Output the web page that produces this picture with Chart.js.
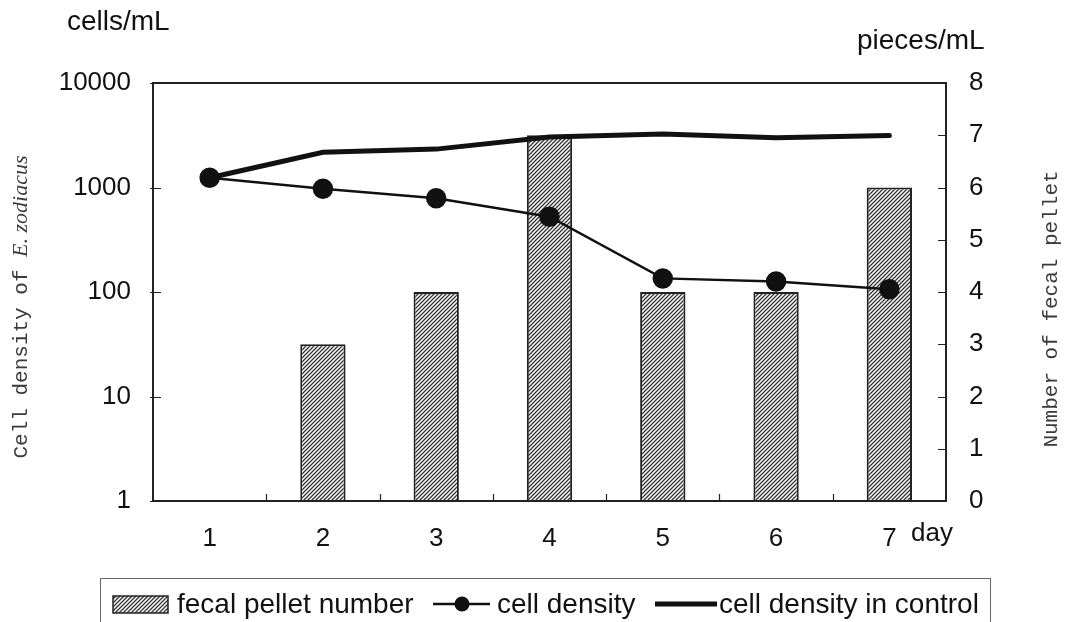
<!DOCTYPE html>
<html>
<head>
<meta charset="utf-8">
<script src="https://cdn.jsdelivr.net/npm/chart.js@4"></script>
<style>
  body { margin: 0; background: #fff; }
  canvas { display: block; }
</style>
</head>
<body>
<canvas id="pelletChart" width="1089" height="622"></canvas>
<script>
// values
const days = ['1', '2', '3', '4', '5', '6', '7'];
const pelletNumber = [0, 3, 4, 7, 4, 4, 6];                 // pieces/mL (right axis)
const cellDensity = [1240, 975, 790, 525, 135, 126, 106];   // cells/mL (left, log)
const controlDensity = [1240, 2170, 2330, 3040, 3250, 3000, 3150];
const logTicks = [1, 10, 100, 1000, 10000];

const labelFont = '"Liberation Sans", Arial, sans-serif';
const titleFont = '"Liberation Mono", "DejaVu Sans Mono", monospace';

// diagonal hatch for the bars
function makeHatch() {
  const c = document.createElement('canvas');
  c.width = 4; c.height = 4;
  const g = c.getContext('2d');
  g.fillStyle = '#fff';
  g.fillRect(0, 0, 4, 4);
  g.strokeStyle = '#333';
  g.lineWidth = 1.3;
  g.beginPath();
  g.moveTo(-1, 5); g.lineTo(5, -1);
  g.moveTo(-1, 1); g.lineTo(1, -1);
  g.moveTo(3, 5); g.lineTo(5, 3);
  g.stroke();
  return g.createPattern(c, 'repeat');
}
const hatch = makeHatch();

// frame, inward ticks, unit labels, axis titles and the boxed legend
const decorations = {
  id: 'decorations',
  afterDraw(chart) {
    const ctx = chart.ctx;
    const a = chart.chartArea;
    const x = chart.scales.x, y = chart.scales.y, y1 = chart.scales.y1;
    ctx.save();

    ctx.strokeStyle = '#222';
    ctx.lineWidth = 2;
    ctx.strokeRect(a.left, a.top, a.right - a.left, a.bottom - a.top);

    ctx.lineWidth = 1.2;
    ctx.beginPath();
    logTicks.forEach(v => {
      const py = Math.round(y.getPixelForValue(v)) + 0.5;
      ctx.moveTo(a.left - 3, py); ctx.lineTo(a.left + 8, py);
    });
    for (let v = 0; v <= 8; v++) {
      const py = Math.round(y1.getPixelForValue(v)) + 0.5;
      ctx.moveTo(a.right - 8, py); ctx.lineTo(a.right, py);
    }
    for (let i = 0; i < days.length - 1; i++) {
      const px = Math.round((x.getPixelForValue(i) + x.getPixelForValue(i + 1)) / 2) + 0.5;
      ctx.moveTo(px, a.bottom); ctx.lineTo(px, a.bottom - 7);
    }
    ctx.stroke();

    ctx.fillStyle = '#111';
    ctx.font = '26px ' + labelFont;
    ctx.textBaseline = 'middle';
    ctx.textAlign = 'left';
    ctx.fillText('day', 911, 534);
    ctx.font = '28px ' + labelFont;
    ctx.fillText('cells/mL', 67, 22);
    ctx.fillText('pieces/mL', 857, 41);

    // rotated axis titles
    ctx.fillStyle = '#3a3a3a';
    ctx.save();
    ctx.translate(21, 307);
    ctx.rotate(-Math.PI / 2);
    const t1 = 'Cell density of ';
    const t2 = 'E. zodiacus';
    ctx.font = '21px ' + titleFont;
    const w1 = ctx.measureText(t1).width;
    ctx.font = 'italic 22px "Liberation Serif", serif';
    const w2 = ctx.measureText(t2).width;
    const sx = -(w1 + w2) / 2;
    ctx.font = '21px ' + titleFont;
    ctx.fillText(t1, sx, 0);
    ctx.font = 'italic 22px "Liberation Serif", serif';
    ctx.fillText(t2, sx + w1, 0);
    ctx.restore();

    ctx.save();
    ctx.translate(1051, 309);
    ctx.rotate(-Math.PI / 2);
    ctx.font = '21px ' + titleFont;
    ctx.textAlign = 'center';
    ctx.fillText('Number of fecal pellet', 0, 0);
    ctx.restore();

    // legend box
    ctx.strokeStyle = '#666';
    ctx.lineWidth = 1;
    ctx.strokeRect(100.5, 578.5, 890, 60);
    const ly = 604;
    ctx.fillStyle = hatch;
    ctx.fillRect(113, 596, 55, 17);
    ctx.strokeStyle = '#222';
    ctx.lineWidth = 1.5;
    ctx.strokeRect(113, 596, 55, 17);

    ctx.strokeStyle = '#111';
    ctx.lineWidth = 2.5;
    ctx.beginPath(); ctx.moveTo(433, ly); ctx.lineTo(490, ly); ctx.stroke();
    ctx.fillStyle = '#111';
    ctx.beginPath(); ctx.arc(462, ly, 7.5, 0, Math.PI * 2); ctx.fill();

    ctx.lineWidth = 5;
    ctx.beginPath(); ctx.moveTo(655, ly); ctx.lineTo(717, ly); ctx.stroke();

    ctx.font = '28px ' + labelFont;
    ctx.fillText('fecal pellet number', 177, ly + 1);
    ctx.fillText('cell density', 497, ly + 1);
    ctx.fillText('cell density in control', 719, ly + 1);

    ctx.restore();
  }
};

const ctx = document.getElementById('pelletChart').getContext('2d');

const config = {
  type: 'bar',
  data: {
    labels: days,
    datasets: [
      {
        type: 'line',
        label: 'cell density',
        data: cellDensity,
        yAxisID: 'y',
        borderColor: '#111',
        backgroundColor: '#111',
        borderWidth: 2.5,
        pointRadius: 9,
        pointHoverRadius: 9,
        tension: 0,
        order: 0
      },
      {
        type: 'line',
        label: 'cell density in control',
        data: controlDensity,
        yAxisID: 'y',
        borderColor: '#111',
        borderWidth: 5,
        borderCapStyle: 'round',
        pointRadius: 0,
        tension: 0,
        order: 1
      },
      {
        label: 'fecal pellet number',
        data: pelletNumber,
        yAxisID: 'y1',
        backgroundColor: hatch,
        borderColor: '#222',
        borderWidth: 2,
        borderSkipped: 'start',
        categoryPercentage: 1,
        barPercentage: 0.4,
        order: 2
      }
    ]
  },
  options: {
    responsive: false,
    animation: false,
    layout: { padding: { top: 83, bottom: 61, left: 0, right: 0 } },
    plugins: {
      legend: { display: false },
      tooltip: { enabled: false }
    },
    scales: {
      x: {
        offset: true,
        grid: { display: false },
        border: { display: false },
        ticks: { color: '#111', font: { family: labelFont, size: 26 }, padding: 14 },
        afterFit: s => { s.height = 60; }
      },
      y: {
        type: 'logarithmic',
        position: 'left',
        min: 1,
        max: 10000,
        grid: { display: false },
        border: { display: false },
        afterBuildTicks: s => { s.ticks = logTicks.map(v => ({ value: v })); },
        ticks: {
          color: '#111',
          font: { family: labelFont, size: 26 },
          padding: 14,
          callback: v => String(v)
        },
        afterFit: s => { s.width = 153; }
      },
      y1: {
        type: 'linear',
        position: 'right',
        min: 0,
        max: 8,
        grid: { display: false },
        border: { display: false },
        ticks: {
          stepSize: 1,
          color: '#111',
          font: { family: labelFont, size: 26 },
          padding: 15
        },
        afterFit: s => { s.width = 143; }
      }
    }
  },
  plugins: [decorations]
};

new Chart(ctx, config);
</script>
</body>
</html>
